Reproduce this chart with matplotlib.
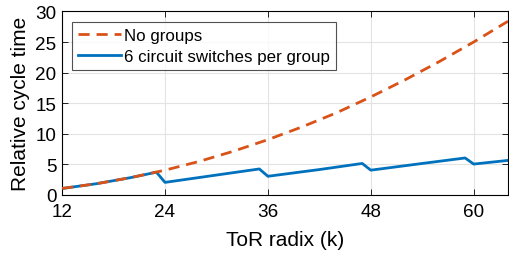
import matplotlib
matplotlib.use("Agg")
import matplotlib.pyplot as plt

plt.rcParams['font.family'] = ['Liberation Sans', 'DejaVu Sans']

# No groups: relative cycle time
k_nogroup = [12, 16, 20, 24, 28, 32, 36, 40, 44, 48, 52, 56, 60, 64]
t_nogroup = [1.0, 1.78, 2.78, 4.0, 5.44, 7.11, 9.0, 11.1, 13.4, 16.0, 18.8, 21.8, 25.0, 28.4]

# 6 circuit switches per group (sawtooth)
k_group = [12, 16, 20, 23, 24, 30, 35, 36, 42, 47, 48, 54, 59, 60, 64]
t_group = [1.0, 1.78, 2.78, 3.67, 2.0, 3.2, 4.2, 3.0, 4.1, 5.1, 4.0, 5.1, 6.0, 5.0, 5.6]

xticks = [12, 24, 36, 48, 60]
yticks = [0, 5, 10, 15, 20, 25, 30]

fig = plt.figure(figsize=(5.09, 2.55), dpi=100)
ax = fig.add_axes([0.122, 0.233, 0.876, 0.718])

ax.plot(k_nogroup, t_nogroup, color='#D95319', lw=2.0, ls=(0, (4, 2.5)),
        label='No groups', zorder=3)
ax.plot(k_group, t_group, color='#0072BD', lw=2.0,
        label='6 circuit switches per group', zorder=2)

ax.set_xlim(12, 64)
ax.set_ylim(0, 30)
ax.set_xticks(xticks)
ax.set_yticks(yticks)
ax.grid(True, color='#e3e3e3', lw=0.8)
ax.set_axisbelow(True)
ax.tick_params(direction='in', top=True, right=True, labelsize=13.6, length=4, width=0.6)
ax.tick_params(axis='x', pad=6)
ax.tick_params(axis='y', pad=4)
for s in ax.spines.values():
    s.set_linewidth(0.8)

ax.set_xlabel('ToR radix (k)', fontsize=15, labelpad=7)
ax.set_ylabel('Relative cycle time', fontsize=15, labelpad=4)

leg = ax.legend(loc='upper left', fontsize=12.2, frameon=True, fancybox=False,
                edgecolor='#262626', handlelength=2.5, borderpad=0.35,
                labelspacing=0.4, handletextpad=0.2, borderaxespad=0.6)
leg.get_frame().set_linewidth(0.8)

fig.savefig('out.png', dpi=100)
